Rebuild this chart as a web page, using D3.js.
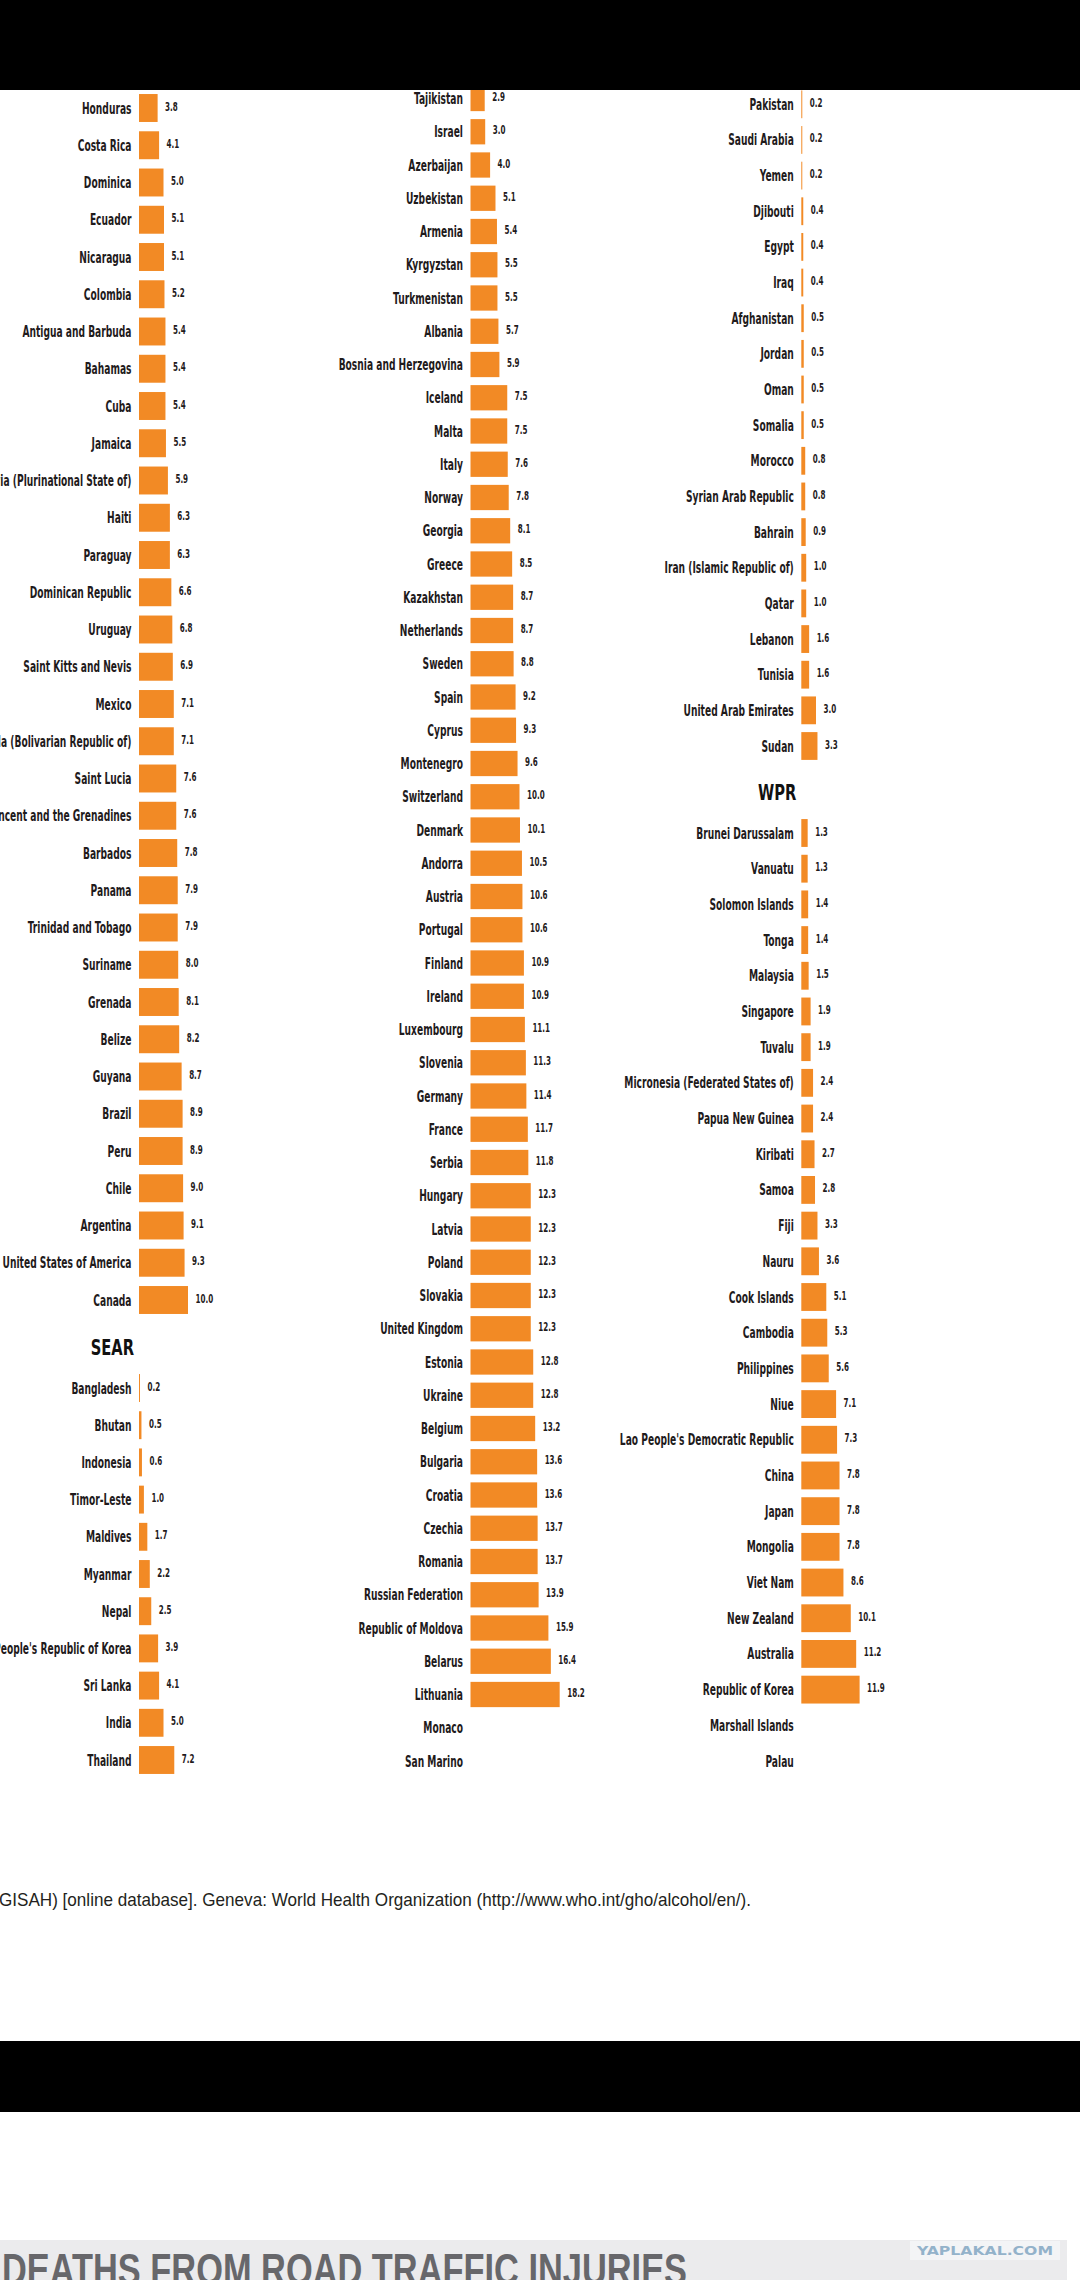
<!DOCTYPE html>
<html>
<head>
<meta charset="utf-8">
<script src="https://cdnjs.cloudflare.com/ajax/libs/d3/7.8.5/d3.min.js"></script>
<style>
  body { margin: 0; background: #fff; }
  svg { display: block; }
</style>
</head>
<body>
<div id="chart"></div>
<script>

// ---- data: alcohol per capita consumption by region ----
var amrNames = ["Honduras", "Costa Rica", "Dominica", "Ecuador", "Nicaragua", "Colombia",
  "Antigua and Barbuda", "Bahamas", "Cuba", "Jamaica", "Bolivia (Plurinational State of)",
  "Haiti", "Paraguay", "Dominican Republic", "Uruguay", "Saint Kitts and Nevis", "Mexico",
  "Venezuela (Bolivarian Republic of)", "Saint Lucia", "Saint Vincent and the Grenadines",
  "Barbados", "Panama", "Trinidad and Tobago", "Suriname", "Grenada", "Belize", "Guyana",
  "Brazil", "Peru", "Chile", "Argentina", "United States of America", "Canada"];
var amrValues = [3.8, 4.1, 5.0, 5.1, 5.1, 5.2, 5.4, 5.4, 5.4, 5.5, 5.9, 6.3, 6.3, 6.6, 6.8, 6.9,
  7.1, 7.1, 7.6, 7.6, 7.8, 7.9, 7.9, 8.0, 8.1, 8.2, 8.7, 8.9, 8.9, 9.0, 9.1, 9.3, 10.0];

var searNames = ["Bangladesh", "Bhutan", "Indonesia", "Timor-Leste", "Maldives", "Myanmar",
  "Nepal", "Democratic People's Republic of Korea", "Sri Lanka", "India", "Thailand"];
var searValues = [0.2, 0.5, 0.6, 1.0, 1.7, 2.2, 2.5, 3.9, 4.1, 5.0, 7.2];

var eurNames = ["Tajikistan", "Israel", "Azerbaijan", "Uzbekistan", "Armenia", "Kyrgyzstan",
  "Turkmenistan", "Albania", "Bosnia and Herzegovina", "Iceland", "Malta", "Italy", "Norway",
  "Georgia", "Greece", "Kazakhstan", "Netherlands", "Sweden", "Spain", "Cyprus", "Montenegro",
  "Switzerland", "Denmark", "Andorra", "Austria", "Portugal", "Finland", "Ireland",
  "Luxembourg", "Slovenia", "Germany", "France", "Serbia", "Hungary", "Latvia", "Poland",
  "Slovakia", "United Kingdom", "Estonia", "Ukraine", "Belgium", "Bulgaria", "Croatia",
  "Czechia", "Romania", "Russian Federation", "Republic of Moldova", "Belarus", "Lithuania",
  "Monaco", "San Marino"];
var eurValues = [2.9, 3.0, 4.0, 5.1, 5.4, 5.5, 5.5, 5.7, 5.9, 7.5, 7.5, 7.6, 7.8, 8.1, 8.5, 8.7,
  8.7, 8.8, 9.2, 9.3, 9.6, 10.0, 10.1, 10.5, 10.6, 10.6, 10.9, 10.9, 11.1, 11.3, 11.4, 11.7,
  11.8, 12.3, 12.3, 12.3, 12.3, 12.3, 12.8, 12.8, 13.2, 13.6, 13.6, 13.7, 13.7, 13.9, 15.9,
  16.4, 18.2, null, null];

var emrNames = ["Pakistan", "Saudi Arabia", "Yemen", "Djibouti", "Egypt", "Iraq", "Afghanistan",
  "Jordan", "Oman", "Somalia", "Morocco", "Syrian Arab Republic", "Bahrain",
  "Iran (Islamic Republic of)", "Qatar", "Lebanon", "Tunisia", "United Arab Emirates", "Sudan"];
var emrValues = [0.2, 0.2, 0.2, 0.4, 0.4, 0.4, 0.5, 0.5, 0.5, 0.5, 0.8, 0.8, 0.9, 1.0, 1.0,
  1.6, 1.6, 3.0, 3.3];

var wprNames = ["Brunei Darussalam", "Vanuatu", "Solomon Islands", "Tonga", "Malaysia",
  "Singapore", "Tuvalu", "Micronesia (Federated States of)", "Papua New Guinea", "Kiribati",
  "Samoa", "Fiji", "Nauru", "Cook Islands", "Cambodia", "Philippines", "Niue",
  "Lao People's Democratic Republic", "China", "Japan", "Mongolia", "Viet Nam", "New Zealand",
  "Australia", "Republic of Korea", "Marshall Islands", "Palau"];
var wprValues = [1.3, 1.3, 1.4, 1.4, 1.5, 1.9, 1.9, 2.4, 2.4, 2.7, 2.8, 3.3, 3.6, 5.1, 5.3, 5.6,
  7.1, 7.3, 7.8, 7.8, 7.8, 8.6, 10.1, 11.2, 11.9, null, null];

var footText = "GISAH) [online database]. Geneva: World Health Organization (http://www.who.int/gho/alcohol/en/).";
var titleText = "DEATHS FROM ROAD TRAFFIC INJURIES";
var markText = "YAPLAKAL.COM";

// ---- layout ----
var W = 1080, H = 2280;
var orange = '#f28a25', ink = '#1f1b1c';
var narrow = '"DejaVu Sans Condensed", "Liberation Sans Narrow", sans-serif';
var helv = '"Liberation Sans", Arial, sans-serif';

// where each region block sits on the page (first and last row centres)
var groups = [
  {names: amrNames,  values: amrValues,  left: 139,   y0: 108,   y1: 1300, pad: 0.25},
  {names: searNames, values: searValues, left: 139,   y0: 1388,  y1: 1760, pad: 0.25,
    header: 'SEAR', headY: 1355},
  {names: eurNames,  values: eurValues,  left: 470.5, y0: 98.5,  y1: 1761, pad: 0.24},
  {names: emrNames,  values: emrValues,  left: 801.3, y0: 104.3, y1: 746,  pad: 0.22},
  {names: wprNames,  values: wprValues,  left: 801.3, y0: 833,   y1: 1761, pad: 0.22,
    header: 'WPR', headY: 800}
];

var svg = d3.select('#chart')
  .append('svg')
    .attr('width', W)
    .attr('height', H);

svg.append('rect').attr('width', W).attr('height', H).attr('fill', '#fff');

var x = d3.scaleLinear().domain([0, 20]).range([0, 98]);

// the original uses a very condensed face, squeeze ours to the same widths
function measure(str, size, weight, family) {
  var t = svg.append('text')
    .style('font-family', family)
    .style('font-size', size + 'px')
    .style('font-weight', weight)
    .text(str);
  var w = t.node().getComputedTextLength();
  t.remove();
  return w;
}
var labelSize = 15.5, valueSize = 11.5, headSize = 22;
var labelSx = 129 / measure('United States of America', labelSize, 'bold', narrow);
var valueSx = 17.7 / measure('10.0', valueSize, 'bold', narrow);
var headSx = 43.3 / measure('SEAR', headSize, 'bold', narrow);

groups.forEach(function(g) {
  var n = g.names.length;
  var step = (g.y1 - g.y0) / (n - 1);
  var y = d3.scaleBand()
    .domain(g.names)
    .range([g.y0 - step / 2, g.y1 + step / 2])
    .paddingInner(g.pad)
    .paddingOuter(g.pad / 2);

  var rows = g.names.map(function(d, i) { return {name: d, value: g.values[i]}; });
  var block = svg.append('g');

  block.selectAll('rect.bar')
    .data(rows.filter(function(d) { return d.value != null; }))
    .enter()
    .append('rect')
      .attr('class', 'bar')
      .attr('x', g.left)
      .attr('y', function(d) { return y(d.name); })
      .attr('width', function(d) { return x(d.value); })
      .attr('height', y.bandwidth())
      .attr('fill', orange);

  block.selectAll('text.label')
    .data(rows)
    .enter()
    .append('text')
      .attr('class', 'label')
      .attr('transform', function(d) {
        var cy = y(d.name) + y.bandwidth() / 2;
        return 'translate(' + (g.left - 7.5) + ',' + (cy + 5.5) + ') scale(' + labelSx + ',1)';
      })
      .attr('text-anchor', 'end')
      .style('font-family', narrow)
      .style('font-weight', 'bold')
      .style('font-size', labelSize + 'px')
      .attr('fill', ink)
      .text(function(d) { return d.name; });

  block.selectAll('text.value')
    .data(rows.filter(function(d) { return d.value != null; }))
    .enter()
    .append('text')
      .attr('class', 'value')
      .attr('transform', function(d) {
        var cy = y(d.name) + y.bandwidth() / 2;
        return 'translate(' + (g.left + x(d.value) + 7.5) + ',' + (cy + 2.5) + ') scale(' + valueSx + ',1)';
      })
      .style('font-family', narrow)
      .style('font-weight', 'bold')
      .style('font-size', valueSize + 'px')
      .attr('fill', ink)
      .text(function(d) { return d.value.toFixed(1); });

  if (g.header) {
    block.append('text')
      .attr('transform', 'translate(' + (g.left - 5) + ',' + g.headY + ') scale(' + headSx + ',1)')
      .attr('text-anchor', 'end')
      .style('font-family', narrow)
      .style('font-weight', 'bold')
      .style('font-size', headSize + 'px')
      .attr('fill', '#111')
      .text(g.header);
  }
});

// source line, cut on the left like the scan
svg.append('text')
  .attr('x', -1)
  .attr('y', 1906)
  .attr('textLength', 752)
  .attr('lengthAdjust', 'spacingAndGlyphs')
  .style('font-family', helv)
  .style('font-size', '19px')
  .attr('fill', '#231f20')
  .text(footText);

// black bands
svg.append('rect').attr('x', 0).attr('y', 0).attr('width', W).attr('height', 90).attr('fill', '#000');
svg.append('rect').attr('x', 0).attr('y', 2041).attr('width', W).attr('height', 71).attr('fill', '#000');

// next page header strip
svg.append('rect').attr('x', 0).attr('y', 2240).attr('width', 1067).attr('height', 40).attr('fill', '#ebebed');
svg.append('text')
  .attr('x', 2)
  .attr('y', 2285)
  .attr('textLength', 685)
  .attr('lengthAdjust', 'spacingAndGlyphs')
  .style('font-family', helv)
  .style('font-weight', 'bold')
  .style('font-size', '45px')
  .attr('fill', '#67676b')
  .text(titleText);

svg.append('rect').attr('x', 910).attr('y', 2241).attr('width', 150).attr('height', 19).attr('fill', '#f3f4f6');
svg.append('text')
  .attr('x', 917)
  .attr('y', 2255)
  .attr('textLength', 136)
  .attr('lengthAdjust', 'spacingAndGlyphs')
  .style('font-family', narrow)
  .style('font-weight', 'bold')
  .style('font-size', '13px')
  .attr('fill', '#93b2ca')
  .text(markText);

</script>
</body>
</html>
